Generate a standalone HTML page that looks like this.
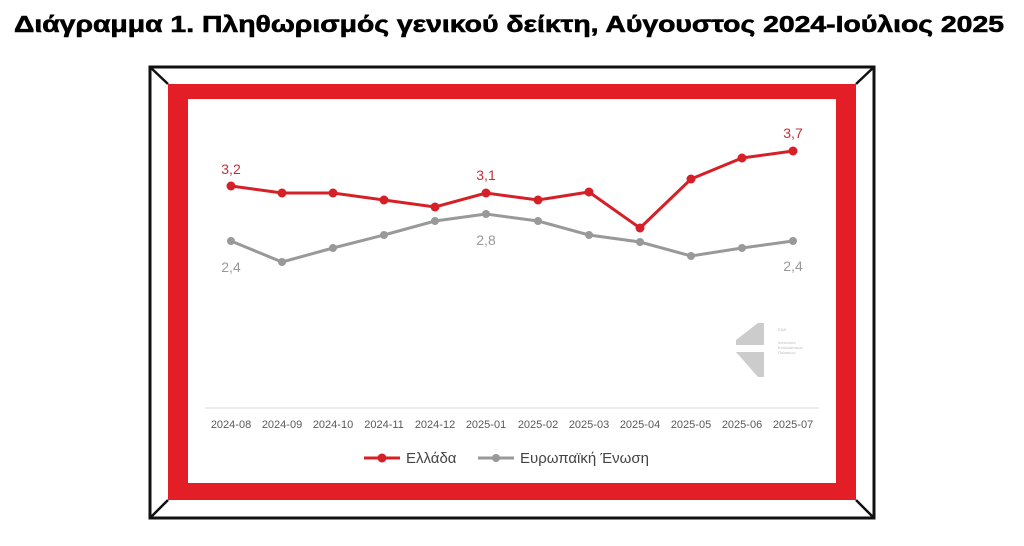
<!DOCTYPE html><html><head><meta charset="utf-8"><style>body{margin:0;background:#fff;width:1024px;height:541px;overflow:hidden}</style></head><body>
<svg width="1024" height="541" xmlns="http://www.w3.org/2000/svg" font-family="Liberation Sans, sans-serif">
<text x="14" y="32" font-size="23" font-weight="bold" fill="#000" textLength="990" lengthAdjust="spacingAndGlyphs" stroke="#000" stroke-width="0.6">Διάγραμμα 1. Πληθωρισμός γενικού δείκτη, Αύγουστος 2024-Ιούλιος 2025</text>
<rect x="150" y="67" width="724" height="451" fill="#fff" stroke="#111" stroke-width="3"/>
<g stroke="#111" stroke-width="2.5"><line x1="150" y1="67" x2="168" y2="84"/><line x1="874" y1="67" x2="856" y2="84"/><line x1="150" y1="518" x2="168" y2="500"/><line x1="874" y1="518" x2="856" y2="500"/></g>
<rect x="168" y="84" width="688" height="416" fill="#e41e26"/>
<rect x="188" y="99" width="648" height="384" fill="#fff"/>
<line x1="205" y1="408" x2="819" y2="408" stroke="#d9d9d9" stroke-width="1"/>
<g font-size="11" fill="#595959" text-anchor="middle">
<text x="231" y="428">2024-08</text><text x="282" y="428">2024-09</text><text x="333" y="428">2024-10</text><text x="384" y="428">2024-11</text><text x="435" y="428">2024-12</text><text x="486" y="428">2025-01</text><text x="538" y="428">2025-02</text><text x="589" y="428">2025-03</text><text x="640" y="428">2025-04</text><text x="691" y="428">2025-05</text><text x="742" y="428">2025-06</text><text x="793" y="428">2025-07</text></g>
<polyline fill="none" stroke="#999" stroke-width="3" points="231,241 282,262 333,248 384,235 435,221 486,214 538,221 589,235 640,242 691,256 742,248 793,241"/>
<g fill="#999"><circle cx="231" cy="241" r="4"/><circle cx="282" cy="262" r="4"/><circle cx="333" cy="248" r="4"/><circle cx="384" cy="235" r="4"/><circle cx="435" cy="221" r="4"/><circle cx="486" cy="214" r="4"/><circle cx="538" cy="221" r="4"/><circle cx="589" cy="235" r="4"/><circle cx="640" cy="242" r="4"/><circle cx="691" cy="256" r="4"/><circle cx="742" cy="248" r="4"/><circle cx="793" cy="241" r="4"/></g>
<polyline fill="none" stroke="#d62027" stroke-width="3" points="231,186 282,193 333,193 384,200 435,207 486,193 538,200 589,192 640,228 691,179 742,158 793,151"/>
<g fill="#d62027"><circle cx="231" cy="186" r="4.5"/><circle cx="282" cy="193" r="4.5"/><circle cx="333" cy="193" r="4.5"/><circle cx="384" cy="200" r="4.5"/><circle cx="435" cy="207" r="4.5"/><circle cx="486" cy="193" r="4.5"/><circle cx="538" cy="200" r="4.5"/><circle cx="589" cy="192" r="4.5"/><circle cx="640" cy="228" r="4.5"/><circle cx="691" cy="179" r="4.5"/><circle cx="742" cy="158" r="4.5"/><circle cx="793" cy="151" r="4.5"/></g>
<g font-size="14" text-anchor="middle"><text x="231" y="174" fill="#c0303a">3,2</text><text x="486" y="180" fill="#c0303a">3,1</text><text x="793" y="138" fill="#c0303a">3,7</text>
<text x="231" y="272" fill="#999">2,4</text><text x="486" y="245" fill="#999">2,8</text><text x="793" y="271" fill="#999">2,4</text></g>
<polygon points="758,323 764,323 764,345 736,345 736,340" fill="#ccc"/><polygon points="736,352 758,352 764,352 764,377 758,377" fill="#ccc"/>
<g font-size="4" fill="#bbb"><text x="778" y="331">ΕΝΑ</text><text x="778" y="344">Ινστιτούτο</text><text x="778" y="349">Εναλλακτικών</text><text x="778" y="354">Πολιτικών</text></g>
<line x1="364" y1="458" x2="400" y2="458" stroke="#d62027" stroke-width="3"/><circle cx="382" cy="458" r="4.5" fill="#d62027"/>
<text x="406" y="463" font-size="15" fill="#444">Ελλάδα</text>
<line x1="478" y1="458" x2="514" y2="458" stroke="#999" stroke-width="3"/><circle cx="496" cy="458" r="4" fill="#999"/>
<text x="520" y="463" font-size="15" fill="#444">Ευρωπαϊκή Ένωση</text>
</svg></body></html>
